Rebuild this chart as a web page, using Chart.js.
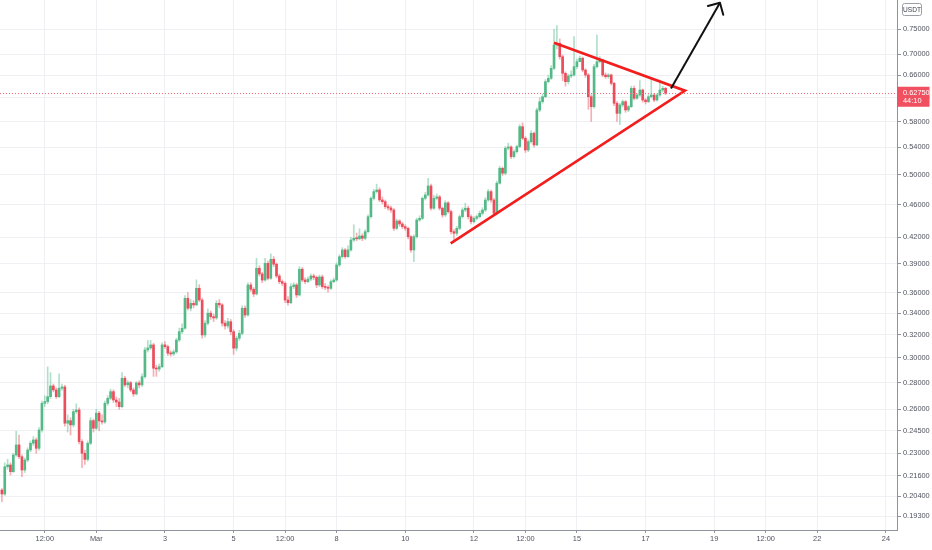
<!DOCTYPE html>
<html>
<head>
<meta charset="utf-8">
<script src="https://cdn.jsdelivr.net/npm/chart.js@4.4.1/dist/chart.umd.min.js"></script>
<style>
  html, body { margin: 0; padding: 0; background: #fff; }
  #wrap { width: 932px; height: 550px; position: relative; }
</style>
</head>
<body>
<div id="wrap"><canvas id="chart"></canvas></div>
<script>
// 2h candles; x is measured in days from Mar 1 00:00
const firstCandleDay = -33 / 12; // Feb 26 06:00
const candleStepDay = 2 / 24;

const opens = [
  .2076,.2053,.2215,.2226,.2185,.2289,.2354,.2278,.2195,.2257,
  .2321,.2365,.2387,.2332,.2454,.2644,.2656,.2693,.2775,.2744,
  .2693,.2757,.2767,.2501,.2519,.2489,.2583,.2595,.2376,.2300,
  .2261,.2365,.2519,.2466,.2572,.2517,.2510,.2644,.2681,.2731,
  .2668,.2653,.2619,.2835,.2783,.2800,.2744,.2714,.2798,.2783,
  .2847,.3068,.3085,.3111,.2915,.2909,.2928,.3111,.3096,.3040,
  .3034,.3051,.3154,.3228,.3259,.3543,.3446,.3494,.3478,.3643,
  .3526,.3199,.3305,.3399,.3366,.3354,.3494,.3478,.3305,.3280,
  .3319,.3228,.3083,.3170,.3213,.3446,.3382,.3677,.3633,.3586,
  .3852,.3792,.3728,.3906,.3746,.3950,.3896,.3770,.3711,.3694,
  .3526,.3500,.3660,.3677,.3576,.3842,.3728,.3711,.3738,.3770,
  .3756,.3677,.3760,.3660,.3652,.3643,.3711,.3728,.3888,.3979,
  .4054,.3979,.4054,.4168,.4188,.4182,.4215,.4188,.4266,.4448,
  .4682,.4770,.4792,.4660,.4638,.4574,.4558,.4532,.4306,.4395,
  .4359,.4326,.4306,.4207,.4054,.4207,.4407,.4428,.4682,.4726,
  .4846,.4554,.4682,.4700,.4554,.4470,.4622,.4511,.4266,.4247,
  .4306,.4448,.4532,.4554,.4448,.4386,.4428,.4448,.4490,.4532,
  .4660,.4770,.4660,.4490,.4883,.5091,.5021,.5383,.5403,.5259,
  .5332,.5408,.5717,.5535,.5357,.5483,.5613,.5433,.5989,.6129,
  .6215,.6481,.6542,.6727,.7179,.7214,.6949,.6634,.6481,.6585,
  .6603,.6758,.6852,.6918,.6695,.6603,.6215,.6045,.6758,.6852,
  .6885,.6603,.6572,.6603,.6452,.6102,.5933,.6073,.6129,.5989,
  .6045,.6362,.6187,.6244,.6332,.6158,.6129,.6215,.6244,.6158,
  .6244,.6332,.6362
];
const highs = [
  .2085,.2240,.2262,.2240,.2300,.2445,.2420,.2290,.2270,.2335,
  .2380,.2410,.2400,.2470,.2660,.2700,.2926,.2880,.2790,.2760,
  .2870,.2790,.2780,.2560,.2540,.2600,.2640,.2610,.2390,.2320,
  .2380,.2540,.2530,.2600,.2585,.2560,.2660,.2700,.2750,.2745,
  .2690,.2680,.2880,.2850,.2815,.2810,.2760,.2810,.2815,.2870,
  .3090,.3150,.3150,.3125,.2940,.2950,.3130,.3140,.3110,.3060,
  .3070,.3170,.3260,.3300,.3570,.3600,.3530,.3520,.3730,.3680,
  .3545,.3330,.3440,.3420,.3390,.3520,.3530,.3490,.3330,.3350,
  .3340,.3245,.3190,.3240,.3470,.3470,.3700,.3700,.3650,.3960,
  .3880,.3810,.3960,.3930,.4010,.3980,.3910,.3790,.3730,.3710,
  .3560,.3690,.3700,.3695,.3870,.3860,.3750,.3760,.3790,.3790,
  .3770,.3780,.3780,.3690,.3670,.3730,.3750,.3910,.4000,.4080,
  .4070,.4100,.4200,.4350,.4250,.4300,.4240,.4290,.4470,.4700,
  .4800,.4870,.4820,.4700,.4660,.4600,.4580,.4550,.4420,.4410,
  .4380,.4350,.4320,.4220,.4230,.4430,.4460,.4700,.4760,.4950,
  .4870,.4720,.4740,.4720,.4570,.4650,.4640,.4530,.4290,.4330,
  .4470,.4560,.4620,.4580,.4470,.4450,.4470,.4520,.4560,.4690,
  .4800,.4790,.4680,.4910,.5120,.5110,.5410,.5460,.5420,.5360,
  .5430,.5750,.5780,.5560,.5510,.5650,.5630,.6020,.6200,.6260,
  .6520,.6600,.6780,.7500,.7580,.7300,.6980,.6660,.6620,.6680,
  .7350,.6900,.6960,.6940,.6720,.6630,.6250,.6800,.7380,.6950,
  .6900,.6640,.6630,.6620,.6470,.6130,.6100,.6160,.6150,.6070,
  .6400,.6400,.6270,.6500,.6350,.6180,.6250,.6550,.6270,.6270,
  .6500,.6400,.6380
];
const lows = [
  .2010,.2045,.2200,.2165,.2180,.2280,.2265,.2155,.2180,.2245,
  .2310,.2350,.2300,.2320,.2440,.2620,.2640,.2680,.2730,.2680,
  .2685,.2740,.2480,.2440,.2420,.2475,.2570,.2360,.2210,.2230,
  .2250,.2355,.2440,.2455,.2450,.2495,.2500,.2630,.2670,.2650,
  .2620,.2600,.2610,.2770,.2760,.2730,.2695,.2705,.2760,.2770,
  .2835,.3050,.3070,.2850,.2850,.2890,.2920,.3080,.3020,.3015,
  .3020,.3040,.3140,.3210,.3250,.3430,.3420,.3450,.3470,.3510,
  .3170,.3180,.3290,.3340,.3320,.3340,.3450,.3280,.3250,.3260,
  .3200,.3030,.3060,.3150,.3200,.3360,.3370,.3610,.3560,.3575,
  .3770,.3700,.3715,.3730,.3735,.3870,.3750,.3690,.3670,.3500,
  .3475,.3490,.3640,.3550,.3565,.3710,.3690,.3700,.3720,.3730,
  .3650,.3660,.3640,.3630,.3605,.3630,.3700,.3715,.3870,.3960,
  .3960,.3970,.4040,.4150,.4160,.4170,.4160,.4170,.4250,.4430,
  .4660,.4750,.4640,.4610,.4550,.4530,.4500,.4280,.4290,.4330,
  .4300,.4280,.4180,.4030,.3925,.4190,.4390,.4410,.4660,.4710,
  .4530,.4540,.4660,.4530,.4440,.4450,.4490,.4240,.4168,.4220,
  .4290,.4430,.4510,.4420,.4360,.4370,.4410,.4430,.4470,.4510,
  .4640,.4630,.4460,.4470,.4870,.4990,.5000,.5360,.5230,.5240,
  .5310,.5390,.5510,.5320,.5330,.5460,.5400,.5420,.5960,.6100,
  .6200,.6460,.6520,.6700,.7100,.6900,.6500,.6400,.6440,.6550,
  .6580,.6720,.6850,.6660,.6560,.6000,.5800,.6020,.6730,.6830,
  .6570,.6540,.6540,.6420,.6060,.5800,.5750,.6040,.5950,.5960,
  .6030,.6160,.6170,.6220,.6120,.6090,.6110,.6190,.6130,.6140,
  .6220,.6300,.6250
];
const closes = [
  .2053,.2215,.2226,.2185,.2289,.2354,.2278,.2195,.2257,.2321,
  .2365,.2387,.2332,.2454,.2644,.2656,.2693,.2775,.2744,.2693,
  .2757,.2767,.2501,.2519,.2489,.2583,.2595,.2376,.2300,.2261,
  .2365,.2519,.2466,.2572,.2517,.2510,.2644,.2681,.2731,.2668,
  .2653,.2619,.2835,.2783,.2800,.2744,.2714,.2798,.2783,.2847,
  .3068,.3085,.3111,.2915,.2909,.2928,.3111,.3096,.3040,.3034,
  .3051,.3154,.3228,.3259,.3543,.3446,.3494,.3478,.3643,.3526,
  .3199,.3305,.3399,.3366,.3354,.3494,.3478,.3305,.3280,.3319,
  .3228,.3083,.3170,.3213,.3446,.3382,.3677,.3633,.3586,.3852,
  .3792,.3728,.3906,.3746,.3950,.3896,.3770,.3711,.3694,.3526,
  .3500,.3660,.3677,.3576,.3842,.3728,.3711,.3738,.3770,.3756,
  .3677,.3760,.3660,.3652,.3643,.3711,.3728,.3888,.3979,.4054,
  .3979,.4054,.4168,.4188,.4182,.4215,.4188,.4266,.4448,.4682,
  .4770,.4792,.4660,.4638,.4574,.4558,.4532,.4306,.4395,.4359,
  .4326,.4306,.4207,.4054,.4207,.4407,.4428,.4682,.4726,.4846,
  .4554,.4682,.4700,.4554,.4470,.4622,.4511,.4266,.4247,.4306,
  .4448,.4532,.4554,.4448,.4386,.4428,.4448,.4490,.4532,.4660,
  .4770,.4660,.4490,.4883,.5091,.5021,.5383,.5403,.5259,.5332,
  .5408,.5717,.5535,.5357,.5483,.5613,.5433,.5989,.6129,.6215,
  .6481,.6542,.6727,.7179,.7214,.6949,.6634,.6481,.6585,.6603,
  .6758,.6852,.6918,.6695,.6603,.6215,.6045,.6758,.6852,.6885,
  .6603,.6572,.6603,.6452,.6102,.5933,.6073,.6129,.5989,.6045,
  .6362,.6187,.6244,.6332,.6158,.6129,.6215,.6244,.6158,.6244,
  .6332,.6362,.6275
];

const xTickDays = [-1.5, 0, 2, 4, 5.5, 7, 9, 11, 12.5, 14, 16, 18, 19.5, 21, 23];
const xTickLabels = ["12:00", "Mar", "3", "5", "12:00", "8", "10", "12", "12:00", "15", "17", "19", "12:00", "22", "24"];
const yTicks = [0.193, 0.204, 0.216, 0.23, 0.245, 0.26, 0.28, 0.30, 0.32, 0.34, 0.36, 0.39,
  0.42, 0.46, 0.50, 0.54, 0.58, 0.62, 0.66, 0.70, 0.75];

// drawn lines (day, price)
const triangleLine = [{ x: 10.323, y: 0.4130 }, { x: 17.148, y: 0.6320 }, { x: 13.333, y: 0.7225 }];
const arrowLine = [{ x: 16.741, y: 0.636 }, { x: 18.167, y: 0.8077 }];

const lastPrice = 0.6275;
const countdown = "44:10";
const currency = "USDT";

const xMin = -2.805, xMax = 23.324;
const yMin = 0.1857, yMax = 0.8138;

const upColor = "#53b987";
const downColor = "#eb4d5c";
const upWick = "rgba(83,185,135,0.45)";
const downWick = "rgba(235,77,92,0.45)";
const gridColor = "#eef0f3";
const axisColor = "#8f939c";
const labelColor = "#50535e";
const font = { family: "'Liberation Sans', Arial, sans-serif", size: 7.4 };

const candleDays = closes.map((_, i) => firstCandleDay + i * candleStepDay);
const bodyData = closes.map((c, i) => ({ x: candleDays[i], y: [opens[i], c] }));
const wickData = closes.map((c, i) => ({ x: candleDays[i], y: [lows[i], highs[i]] }));
const isUp = closes.map((c, i) => c >= opens[i]);

const overlay = {
  id: "overlay",
  afterDatasetsDraw(chart) {
    const { ctx, chartArea: a, scales: { x, y } } = chart;
    const py = Math.round(y.getPixelForValue(lastPrice)) + 0.5;
    ctx.save();
    // dotted last-price line
    ctx.strokeStyle = "#f26b77";
    ctx.lineWidth = 1;
    ctx.setLineDash([1, 2]);
    ctx.beginPath();
    ctx.moveTo(a.left, py);
    ctx.lineTo(a.right, py);
    ctx.stroke();
    ctx.setLineDash([]);
    // arrow head
    const p0 = { x: x.getPixelForValue(arrowLine[0].x), y: y.getPixelForValue(arrowLine[0].y) };
    const p1 = { x: x.getPixelForValue(arrowLine[1].x), y: y.getPixelForValue(arrowLine[1].y) };
    const ang = Math.atan2(p1.y - p0.y, p1.x - p0.x);
    const len = 12.5, spread = Math.PI / 4;
    ctx.strokeStyle = "#111";
    ctx.lineWidth = 2;
    ctx.lineCap = "round";
    ctx.lineJoin = "round";
    ctx.beginPath();
    ctx.moveTo(p1.x - len * Math.cos(ang - spread), p1.y - len * Math.sin(ang - spread));
    ctx.lineTo(p1.x, p1.y);
    ctx.lineTo(p1.x - len * Math.cos(ang + spread), p1.y - len * Math.sin(ang + spread));
    ctx.stroke();
    ctx.restore();
  },
  afterDraw(chart) {
    const { ctx, chartArea: a, scales: { y } } = chart;
    const py = y.getPixelForValue(lastPrice);
    ctx.save();
    // last price tag
    ctx.fillStyle = "#f0505f";
    ctx.fillRect(a.right, py - 6.5, 32.5, 20);
    ctx.fillStyle = "#fff";
    ctx.font = `${font.size}px ${font.family}`;
    ctx.textBaseline = "middle";
    ctx.textAlign = "left";
    ctx.fillText(lastPrice.toFixed(5), a.right + 6, py);
    ctx.fillText(countdown, a.right + 6, py + 7.5);
    // currency badge
    const bx = a.right + 5, by = 3, bw = 19, bh = 12;
    ctx.fillStyle = "#fff";
    ctx.strokeStyle = "#9a9ea6";
    ctx.lineWidth = 1;
    ctx.beginPath();
    ctx.roundRect(bx + 0.5, by + 0.5, bw, bh, 2);
    ctx.fill();
    ctx.stroke();
    ctx.fillStyle = "#3b3e47";
    ctx.textAlign = "center";
    ctx.font = `6.6px ${font.family}`;
    ctx.fillText(currency, bx + bw / 2 + 0.5, by + bh / 2 + 1);
    ctx.restore();
  }
};

new Chart(document.getElementById("chart"), {
  type: "bar",
  data: {
    datasets: [
      {
        type: "line",
        data: arrowLine,
        borderColor: "#111",
        borderWidth: 2,
        pointRadius: 0,
        tension: 0,
        order: 0,
      },
      {
        type: "line",
        data: triangleLine,
        borderColor: "#f21d1d",
        borderWidth: 2.6,
        pointRadius: 0,
        tension: 0,
        borderJoinStyle: "miter",
        order: 1,
      },
      {
        type: "bar",
        data: bodyData,
        backgroundColor: isUp.map((u) => (u ? upColor : downColor)),
        barThickness: 2,
        minBarLength: 1,
        grouped: false,
        borderWidth: 0,
        order: 2,
      },
      {
        type: "bar",
        data: wickData,
        backgroundColor: isUp.map((u) => (u ? upWick : downWick)),
        barThickness: 1,
        grouped: false,
        borderWidth: 0,
        order: 3,
      },
    ],
  },
  options: {
    responsive: true,
    maintainAspectRatio: false,
    animation: false,
    layout: { padding: 0 },
    plugins: { legend: { display: false }, tooltip: { enabled: false } },
    scales: {
      x: {
        type: "linear",
        min: xMin,
        max: xMax,
        offset: false,
        afterBuildTicks: (s) => { s.ticks = xTickDays.map((v) => ({ value: v })); },
        afterFit: (s) => { s.height = 20; s.paddingLeft = 0; s.paddingRight = 0; },
        ticks: {
          callback: (v, i) => xTickLabels[i],
          autoSkip: false,
          maxRotation: 0,
          padding: 2,
          color: labelColor,
          font,
        },
        grid: { color: gridColor, tickLength: 3, tickColor: axisColor, offset: false },
        border: { color: axisColor },
      },
      y: {
        type: "logarithmic",
        position: "right",
        min: yMin,
        max: yMax,
        afterBuildTicks: (s) => { s.ticks = yTicks.map((v) => ({ value: v })); },
        afterFit: (s) => { s.width = 35; s.paddingTop = 0; s.paddingBottom = 0; },
        ticks: {
          callback: (v) => Number(v).toFixed(5),
          autoSkip: false,
          padding: 2,
          color: labelColor,
          font,
        },
        grid: { color: gridColor, tickLength: 4, tickColor: axisColor },
        border: { color: axisColor },
      },
    },
  },
  plugins: [overlay],
});
</script>
</body>
</html>
